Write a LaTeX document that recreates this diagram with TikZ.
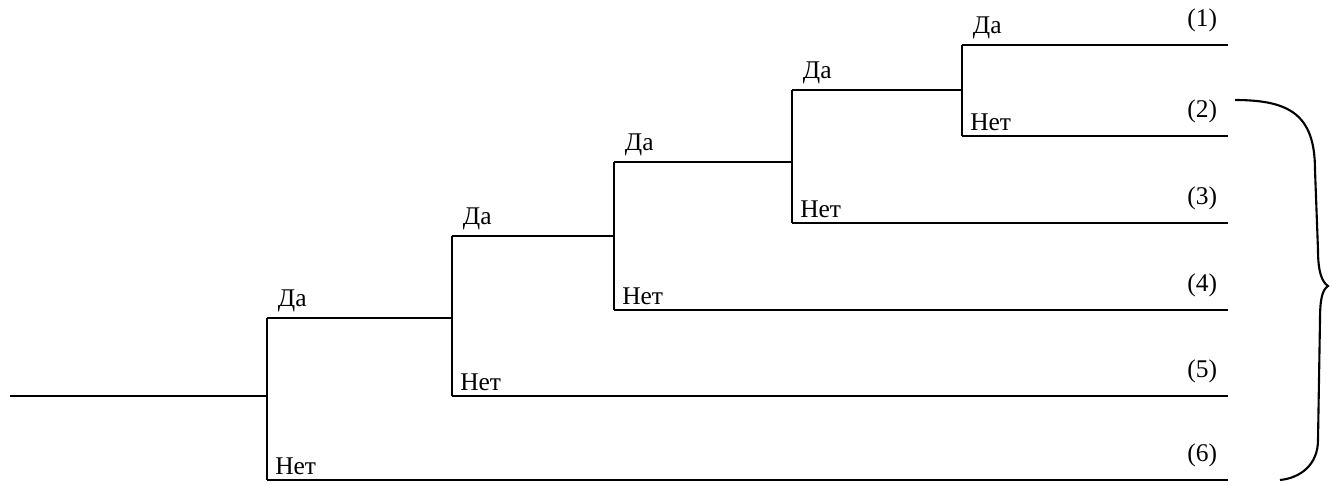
\documentclass[tikz,border=0pt]{standalone}
\usepackage{fontspec}
\setmainfont{Liberation Serif}
\usetikzlibrary{positioning}

\begin{document}
\begin{tikzpicture}[x=0.02cm, y=-0.02cm,
  every node/.style={font=\fontsize{14.5}{16}\selectfont, inner sep=3pt},
  branch/.style={line width=1.6pt},
  yes/.style  ={above right, xshift=3pt},
  no/.style   ={above right, xshift=1.5pt},
  outcome/.style={above left, xshift=-3pt, yshift=4pt}]

\useasboundingbox (0,0) rectangle (1333,485);

%% Input and decision points
\coordinate (in) at (10,396);
\coordinate (d1) at (267,396);
\coordinate (d2) at (452,318);
\coordinate (d3) at (614,236);
\coordinate (d4) at (792,162);
\coordinate (d5) at (962,90);

%% Corners of each fork (yes above, no below)
\coordinate (y1) at (267,318);  \coordinate (n1) at (267,480);
\coordinate (y2) at (452,236);  \coordinate (n2) at (452,396);
\coordinate (y3) at (614,162);  \coordinate (n3) at (614,310);
\coordinate (y4) at (792,90);   \coordinate (n4) at (792,223);
\coordinate (y5) at (962,45);   \coordinate (n5) at (962,136);

%% Outcome ends
\coordinate (e1) at (1228,45);
\coordinate (e2) at (1228,136);
\coordinate (e3) at (1228,223);
\coordinate (e4) at (1228,310);
\coordinate (e5) at (1228,396);
\coordinate (e6) at (1228,480);

%% Tree
\draw[branch] (in) -- (d1);
\draw[branch] (y1) -- (n1);
\draw[branch] (y1) -- (d2);
\draw[branch] (n1) -- (e6);
\draw[branch] (y2) -- (n2);
\draw[branch] (y2) -- (d3);
\draw[branch] (n2) -- (e5);
\draw[branch] (y3) -- (n3);
\draw[branch] (y3) -- (d4);
\draw[branch] (n3) -- (e4);
\draw[branch] (y4) -- (n4);
\draw[branch] (y4) -- (d5);
\draw[branch] (n4) -- (e3);
\draw[branch] (y5) -- (n5);
\draw[branch] (y5) -- (e1);
\draw[branch] (n5) -- (e2);

%% Branch labels
\node[yes] (l1y) at (y1) {Да};   \node[no] (l1n) at (n1) {Нет};
\node[yes] (l2y) at (y2) {Да};   \node[no] (l2n) at (n2) {Нет};
\node[yes] (l3y) at (y3) {Да};   \node[no] (l3n) at (n3) {Нет};
\node[yes] (l4y) at (y4) {Да};   \node[no] (l4n) at (n4) {Нет};
\node[yes] (l5y) at (y5) {Да};   \node[no] (l5n) at (n5) {Нет};

%% Outcome numbers
\node[outcome] (o1) at (e1) {(1)};
\node[outcome] (o2) at (e2) {(2)};
\node[outcome] (o3) at (e3) {(3)};
\node[outcome] (o4) at (e4) {(4)};
\node[outcome] (o5) at (e5) {(5)};
\node[outcome] (o6) at (e6) {(6)};

%% Brace grouping outcomes (2)-(6)
\coordinate (btop) at (1235,100);
\coordinate (btip) at (1328,286);
\coordinate (bbot) at (1280,480);
\draw[line width=1.2pt]
  (btop) .. controls (1290,100) and (1315,115) .. (1315,170)
  -- (1318,250) .. controls (1318,272) and (1322,282) .. (btip)
  .. controls (1322,290) and (1320,300) .. (1320,320)
  -- (1318,440) .. controls (1318,465) and (1300,478) .. (bbot);
\end{tikzpicture}
\end{document}
